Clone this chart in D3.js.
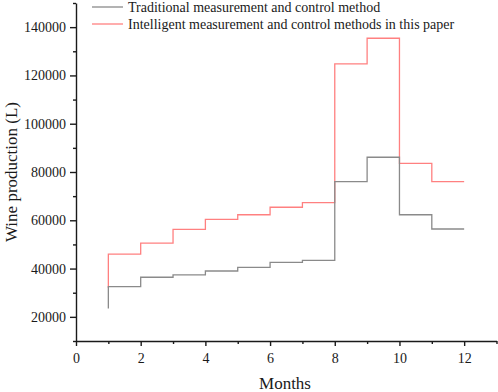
<!DOCTYPE html>
<html>
<head>
<meta charset="utf-8">
<script src="https://cdn.jsdelivr.net/npm/d3@7"></script>
<style>
  body { margin: 0; background: #fff; }
  svg { display: block; font-family: "Liberation Serif", "Times New Roman", serif; }
  svg text { font-family: "Liberation Serif", "Times New Roman", serif; }
</style>
</head>
<body>
<div id="chart"></div>
<script>
// Dades
const months = [1, 2, 3, 4, 5, 6, 7, 8, 9, 10, 11, 12];
const traditional = [23500, 32500, 36400, 37400, 39000, 40500, 42600, 43400, 76000, 86100, 62300, 56400];
const intelligent = [32000, 46000, 50500, 56200, 60400, 62300, 65400, 67300, 124800, 135400, 83600, 76000];
const xMajor = [0, 2, 4, 6, 8, 10, 12];
const xMinor = [1, 3, 5, 7, 9, 11, 13];
const yMajor = [20000, 40000, 60000, 80000, 100000, 120000, 140000];
const yMinor = [10000, 30000, 50000, 70000, 90000, 110000, 130000, 150000];
const seriesNames = ["Traditional measurement and control method", "Intelligent measurement and control methods in this paper"];

const W = 498, H = 392;
const colors = ["#8a8a8a", "#ff8080"];

const svg = d3.select("#chart").append("svg")
    .attr("width", W)
    .attr("height", H);

const x = d3.scaleLinear().domain([0, 13]).range([76, 496.5]);
const y = d3.scaleLinear().domain([10000, 150000]).range([341, 3]);

// Eixos: menors primer
svg.append("g")
    .attr("transform", `translate(0, ${y(10000)})`)
    .call(d3.axisBottom(x).tickValues(xMinor).tickSize(3).tickSizeOuter(0).tickFormat(""))
    .call(g => g.select(".domain").remove());

svg.append("g")
    .attr("transform", `translate(${x(0)}, 0)`)
    .call(d3.axisLeft(y).tickValues(yMinor).tickSize(3).tickSizeOuter(0).tickFormat(""))
    .call(g => g.select(".domain").remove());

svg.append("g")
    .attr("class", "axis")
    .attr("transform", `translate(0, ${y(10000)})`)
    .call(d3.axisBottom(x).tickValues(xMajor).tickSize(5).tickSizeOuter(0).tickPadding(7).tickFormat(d3.format("d")));

svg.append("g")
    .attr("class", "axis")
    .attr("transform", `translate(${x(0)}, 0)`)
    .call(d3.axisLeft(y).tickValues(yMajor).tickSize(6).tickSizeOuter(0).tickPadding(4).tickFormat(d3.format("d")));

svg.selectAll("g")
    .attr("font-family", null)
    .attr("font-size", null);
svg.selectAll(".tick line, .domain")
    .attr("stroke", "#1a1a1a")
    .attr("stroke-width", 1.4);
svg.selectAll(".tick text")
    .attr("fill", "#1a1a1a")
    .style("font-size", "14px");

// Línies esglaonades
const line = d3.line()
    .x((d, i) => x(months[i]))
    .y(d => y(d))
    .curve(d3.curveStepBefore);

svg.append("path")
    .datum(intelligent)
    .attr("fill", "none")
    .attr("stroke", colors[1])
    .attr("stroke-width", 1.3)
    .attr("d", line);

svg.append("path")
    .datum(traditional)
    .attr("fill", "none")
    .attr("stroke", colors[0])
    .attr("stroke-width", 1.3)
    .attr("d", line);

// Llegenda
const legend = svg.append("g");
seriesNames.forEach((name, i) => {
    const ly = 7 + i * 17;
    legend.append("line")
        .attr("x1", 92).attr("x2", 123)
        .attr("y1", ly).attr("y2", ly)
        .attr("stroke", colors[i])
        .attr("stroke-width", 1.3);
    legend.append("text")
        .attr("x", 128)
        .attr("y", ly + 5)
        .style("font-size", "14px")
        .attr("fill", "#1a1a1a")
        .text(name);
});

// Títols dels eixos
svg.append("text")
    .attr("x", 285)
    .attr("y", 389)
    .attr("text-anchor", "middle")
    .style("font-size", "17px")
    .attr("fill", "#1a1a1a")
    .text("Months");

svg.append("text")
    .attr("transform", "translate(17, 172) rotate(-90)")
    .attr("text-anchor", "middle")
    .style("font-size", "17px")
    .attr("fill", "#1a1a1a")
    .text("Wine production (L)");
</script>
</body>
</html>
